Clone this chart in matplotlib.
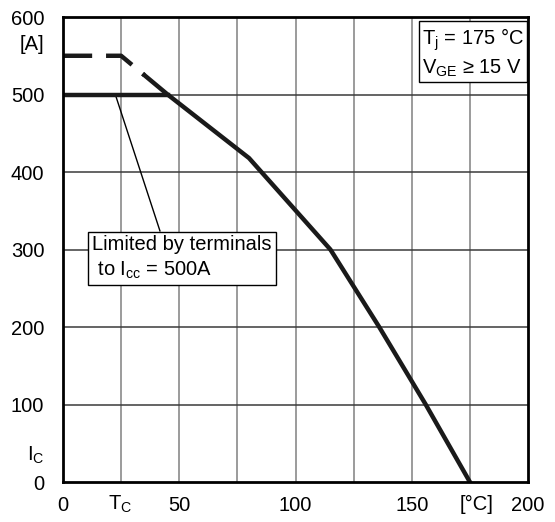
import matplotlib
matplotlib.use("Agg")
import matplotlib.pyplot as plt

plt.rcParams["font.family"] = ["Liberation Sans", "DejaVu Sans"]
plt.rcParams["mathtext.fontset"] = "custom"
plt.rcParams["mathtext.rm"] = "Liberation Sans"
plt.rcParams["mathtext.it"] = "Liberation Sans"
plt.rcParams["lines.scale_dashes"] = False

# chip-limited curve (dashed start, then solid)
dash_tc = [0, 25, 35]
dash_ic = [550, 550, 525]
curve_tc = [35, 45, 80, 115, 136, 156, 175]
curve_ic = [525, 500, 418, 300, 200, 100, 0]

# terminal limit
limit_tc = [0, 45]
limit_ic = [500, 500]

x_ticks = [0, 50, 100, 150, 200]
y_ticks = [0, 100, 200, 300, 400, 500, 600]
x_grid = [25, 50, 75, 100, 125, 150, 175]
y_grid = [100, 200, 300, 400, 500]

fs = 14.5

fig = plt.figure(figsize=(5.55, 5.22), dpi=100)
ax = fig.add_axes([0.1135, 0.0766, 0.8379, 0.8908])
ax.set_xlim(0, 200)
ax.set_ylim(0, 600)

for gx in x_grid:
    ax.axvline(gx, color="#808080", lw=1.1, zorder=1)
for gy in y_grid:
    ax.axhline(gy, color="#3a3a3a", lw=1.1, zorder=1)

ax.plot(dash_tc, dash_ic, color="#1a1a1a", lw=3.2, dashes=(21, 10),
        dash_capstyle="butt", zorder=3)
ax.plot(curve_tc, curve_ic, color="#1a1a1a", lw=3.2, zorder=3)
ax.plot(limit_tc, limit_ic, color="#1a1a1a", lw=3.2, zorder=3)

# pointer to terminal limit line
ax.plot([22.5, 41.7], [500, 324], color="black", lw=1, zorder=2)

ax.text(12.5, 289, "Limited by terminals\n to I$_\\mathrm{cc}$ = 500A", fontsize=fs,
        va="center", ha="left", linespacing=1.35, zorder=5,
        bbox=dict(boxstyle="square,pad=0.2", fc="white", ec="black", lw=1))

ax.text(154.5, 554, "T$_\\mathrm{j}$ = 175 °C\nV$_\\mathrm{GE}$ ≥ 15 V", fontsize=fs,
        va="center", ha="left", linespacing=1.25, zorder=5,
        bbox=dict(boxstyle="square,pad=0.15", fc="white", ec="black", lw=1))

ax.set_xticks(x_ticks)
ax.set_yticks(y_ticks)
ax.tick_params(length=0, labelsize=fs)
ax.tick_params(axis="y", pad=13.5)
ax.tick_params(axis="x", pad=10)

ax.text(-19 / 2.325, 564, "[A]", fontsize=fs, ha="right", va="center")
ax.text(-19 / 2.325, 35, "I$_\\mathrm{C}$", fontsize=fs, ha="right", va="center")
ax.text(24.5, -29, "T$_\\mathrm{C}$", fontsize=fs, ha="center", va="center")
ax.text(178, -29, "[°C]", fontsize=fs, ha="center", va="center")

for s in ax.spines.values():
    s.set_linewidth(2)
    s.set_zorder(6)

fig.savefig("out.png", dpi=100)
